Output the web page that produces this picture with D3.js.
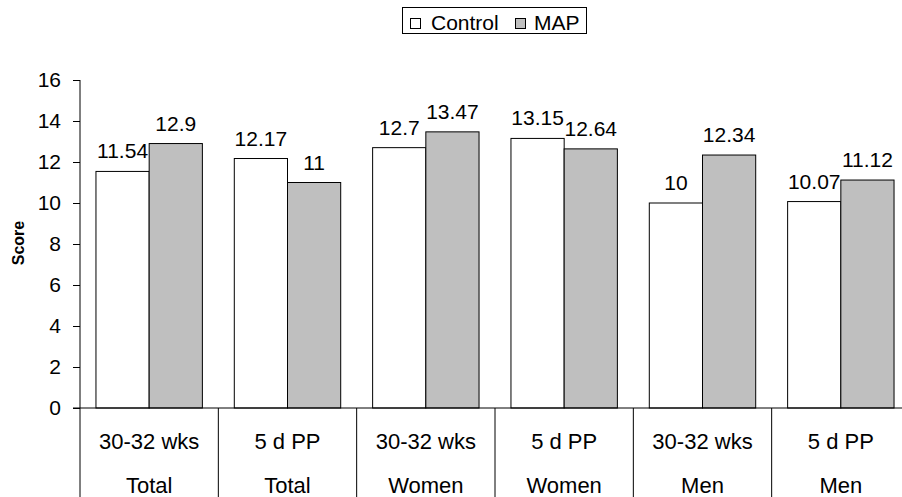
<!DOCTYPE html>
<html>
<head>
<meta charset="utf-8">
<script src="https://cdn.jsdelivr.net/npm/d3@7"></script>
<style>
  html, body { margin: 0; padding: 0; background: #fff; }
  svg text { font-family: "Liberation Sans", Arial, Helvetica, sans-serif; fill: #000; }
</style>
</head>
<body>
<svg id="chart" width="902" height="497"></svg>
<script>
// Time points and groups along the x axis
const timepoints = ["30-32 wks", "5 d PP", "30-32 wks", "5 d PP", "30-32 wks", "5 d PP"];
const groups = ["Total", "Total", "Women", "Women", "Men", "Men"];
// Scores per series
const controlValues = [11.54, 12.17, 12.7, 13.15, 10, 10.07];
const mapValues = [12.9, 11, 13.47, 12.64, 12.34, 11.12];
const seriesNames = ["Control", "MAP"];
const yTicks = [0, 2, 4, 6, 8, 10, 12, 14, 16];

const colors = { Control: "#ffffff", MAP: "#bfbfbf" };

const svg = d3.select("#chart");
const plotLeft = 80, plotRight = 910, plotTop = 80, plotBottom = 408;

const idx = d3.range(timepoints.length);
const x = d3.scaleBand().domain(idx).range([plotLeft, plotRight]).paddingInner(0).paddingOuter(0);
const inner = d3.scaleBand().domain(seriesNames).range([0, x.bandwidth()]).paddingInner(0).paddingOuter(0.3);
const y = d3.scaleLinear().domain([0, 16]).range([plotBottom, plotTop]);

// Y axis
const yAxis = svg.append("g").attr("transform", `translate(${plotLeft},0)`)
  .call(d3.axisLeft(y).tickValues(yTicks).tickSize(7).tickPadding(12));
yAxis.select(".domain").remove();
yAxis.selectAll("line").attr("stroke", "#000");
yAxis.selectAll("text").style("font-size", "21px");

svg.append("line").attr("x1", plotLeft).attr("x2", plotLeft).attr("y1", plotTop).attr("y2", 497)
  .attr("stroke", "#000").attr("stroke-width", 1);

svg.append("text")
  .attr("transform", "translate(23.5,243) rotate(-90)")
  .attr("text-anchor", "middle")
  .style("font-size", "16px").style("font-weight", "bold")
  .text("Score");

// Bars
const series = [
  { name: "Control", values: controlValues },
  { name: "MAP", values: mapValues }
];
series.forEach(s => {
  const g = svg.append("g");
  g.selectAll("rect").data(s.values).join("rect")
    .attr("x", (d, i) => x(i) + inner(s.name))
    .attr("y", d => y(d))
    .attr("width", inner.bandwidth())
    .attr("height", d => y(0) - y(d))
    .attr("fill", colors[s.name])
    .attr("stroke", "#000").attr("stroke-width", 1);
  g.selectAll("text").data(s.values).join("text")
    .attr("x", (d, i) => x(i) + inner(s.name) + inner.bandwidth() / 2)
    .attr("y", d => y(d) - 13)
    .attr("text-anchor", "middle")
    .style("font-size", "21px")
    .text(d => d);
});

// Baseline and category separators
svg.append("line").attr("x1", plotLeft - 7).attr("x2", 902).attr("y1", plotBottom).attr("y2", plotBottom)
  .attr("stroke", "#000");
idx.slice(1).forEach(i => {
  svg.append("line").attr("x1", x(i)).attr("x2", x(i)).attr("y1", plotBottom).attr("y2", 497)
    .attr("stroke", "#000");
});

// Category labels (two rows)
svg.append("g").selectAll("text").data(timepoints).join("text")
  .attr("x", (d, i) => x(i) + x.bandwidth() / 2)
  .attr("y", 449)
  .attr("text-anchor", "middle")
  .style("font-size", "22px")
  .text(d => d);
svg.append("g").selectAll("text").data(groups).join("text")
  .attr("x", (d, i) => x(i) + x.bandwidth() / 2)
  .attr("y", 493)
  .attr("text-anchor", "middle")
  .style("font-size", "22px")
  .text(d => d);

// Legend
const legend = svg.append("g");
legend.append("rect").attr("x", 402.5).attr("y", 7.5).attr("width", 184).attr("height", 26)
  .attr("fill", "#fff").attr("stroke", "#000");
const items = [
  { name: "Control", sx: 410, tx: 431 },
  { name: "MAP", sx: 515, tx: 534 }
];
items.forEach(it => {
  legend.append("rect").attr("x", it.sx + 0.5).attr("y", 18.5).attr("width", 10).attr("height", 10)
    .attr("fill", colors[it.name]).attr("stroke", "#000");
  legend.append("text").attr("x", it.tx).attr("y", 30)
    .style("font-size", "21px").text(it.name);
});
</script>
</body>
</html>
